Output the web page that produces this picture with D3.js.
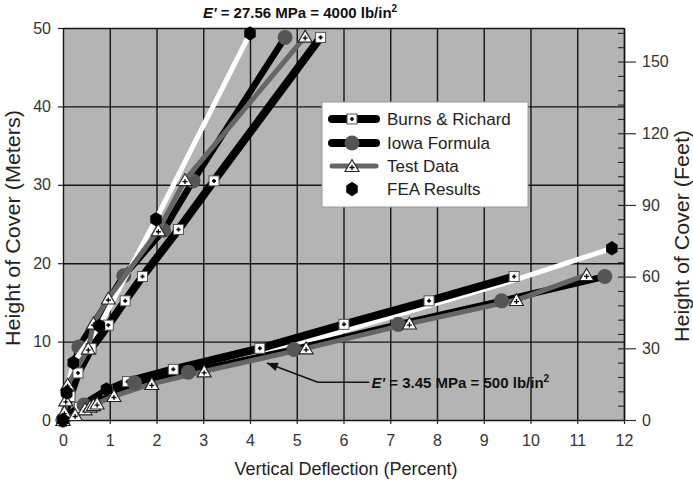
<!DOCTYPE html>
<html><head><meta charset="utf-8">
<script src="https://cdn.jsdelivr.net/npm/d3@7"></script>
<style>
body{margin:0;background:#fff}
svg{display:block}
text{font-family:"Liberation Sans",Arial,Helvetica,sans-serif}
</style>
</head><body>
<svg id="c" width="693" height="486"></svg>
<script>
// ---------------- data ----------------
const xTickVals = [0,1,2,3,4,5,6,7,8,9,10,11,12];
const yTickVals = [0,10,20,30,40,50];
const feetTickVals = [0,30,60,90,120,150];
const feetMinorVals = [0,6,12,18,24,30,36,42,48,54,60,66,72,78,84,90,96,102,108,114,120,126,132,138,144,150,156,162];

const seriesNames = ["Burns & Richard","Iowa Formula","Test Data","FEA Results"];

// E' = 27.56 MPa (stiff soil, steep curves)
const burnsHighX = [0, 0.15, 0.32, 0.6, 0.97, 1.33, 1.70, 2.47, 3.23, 5.51];
const burnsHighY = [0, 3.0, 6.0, 9.1, 12.1, 15.2, 18.3, 24.3, 30.5, 48.8];
const iowaHighX  = [0, 0.1, 0.34, 1.3, 2.15, 2.78, 4.75];
const iowaHighY  = [0, 3.5, 9.3, 18.4, 24.2, 30.5, 48.8];
const testHighX  = [0, 0.03, 0.06, 0.1, 0.54, 0.65, 0.97, 2.04, 2.61, 5.18];
const testHighY  = [0, 1.0, 2.5, 4.5, 9.1, 12.3, 15.5, 24.2, 30.6, 48.9];
const feaHighX   = [0, 0.08, 0.22, 0.78, 1.99, 4.0];
const feaHighY   = [0, 3.5, 7.3, 12.0, 25.6, 49.3];

// E' = 3.45 MPa (soft soil, shallow curves)
const burnsLowX = [0, 0.35, 0.95, 1.38, 2.36, 4.21, 6.01, 7.83, 9.65];
const burnsLowY = [0, 1.6, 3.8, 4.9, 6.46, 9.14, 12.2, 15.2, 18.3];
const iowaLowX  = [0, 0.45, 1.53, 2.68, 4.94, 7.17, 9.38, 11.59];
const iowaLowY  = [0, 1.9, 4.76, 6.1, 9.0, 12.2, 15.2, 18.3];
const testLowX  = [0, 0.26, 0.47, 0.58, 0.65, 0.73, 1.09, 1.9, 3.02, 5.2, 7.41, 9.70, 11.2];
const testLowY  = [0, 0.64, 1.36, 1.7, 1.9, 2.1, 3.06, 4.6, 6.2, 9.14, 12.3, 15.3, 18.5];
const feaLowX   = [0, 0.93, 2.4, 4.32, 5.6, 5.93, 9.56, 11.74];
const feaLowY   = [0, 3.9, 6.2, 8.93, 10.7, 11.26, 17.64, 21.9];
const feaLowResultX = [0.93, 11.74];
const feaLowResultY = [3.9, 21.9];

const labelHigh = ["E'", " = 27.56 MPa = 4000 lb/in", "2"];
const labelLow  = ["E'", " = 3.45 MPa = 500 lb/in", "2"];

// ---------------- chart ----------------
const svg = d3.select('#c');
const x = d3.scaleLinear().domain([0,12]).range([63,624]);
const y = d3.scaleLinear().domain([0,50]).range([420,28]);
const yFt = d3.scaleLinear().domain([0,50/0.3048]).range([420,28]);
const zip = (xs,ys)=>xs.map((v,i)=>[v,ys[i]]);
const FONT = '"Liberation Sans",Arial,sans-serif';

// plot background
svg.append('rect')
  .attr('x',x(0)).attr('y',y(50))
  .attr('width',x(12)-x(0)).attr('height',y(0)-y(50))
  .attr('fill','#b4b4b4');

// grid lines
const gridV = svg.append('g').attr('transform',`translate(0,${y(0)})`)
  .call(d3.axisBottom(x).tickValues(xTickVals).tickSizeInner(-(y(0)-y(50))).tickSizeOuter(0).tickFormat(''));
gridV.select('.domain').remove();
gridV.selectAll('line').attr('stroke','#151515').attr('stroke-width',1.4);
const gridH = svg.append('g').attr('transform',`translate(${x(0)},0)`)
  .call(d3.axisLeft(y).tickValues(yTickVals).tickSizeInner(-(x(12)-x(0))).tickSizeOuter(0).tickFormat(''));
gridH.select('.domain').remove();
gridH.selectAll('line').attr('stroke','#151515').attr('stroke-width',1.4);

// bottom axis labels (+ short ticks)
const ax = svg.append('g').attr('transform',`translate(0,${y(0)})`)
  .call(d3.axisBottom(x).tickValues(xTickVals).tickSize(4).tickPadding(11).tickFormat(d3.format('d')));
ax.select('.domain').remove();
ax.selectAll('line').attr('stroke','#222').attr('stroke-width',1.2);
ax.selectAll('text').attr('font-size',16).attr('fill','#333').attr('font-family',FONT);

// left axis labels
const ay = svg.append('g').attr('transform',`translate(${x(0)},0)`)
  .call(d3.axisLeft(y).tickValues(yTickVals).tickSize(5).tickPadding(7).tickFormat(d3.format('d')));
ay.select('.domain').remove();
ay.selectAll('line').attr('stroke','#222').attr('stroke-width',1.2);
ay.selectAll('text').attr('font-size',16).attr('fill','#333').attr('font-family',FONT);

// right axis (feet)
const ar = svg.append('g').attr('transform',`translate(${x(12)},0)`)
  .call(d3.axisRight(yFt).tickValues(feetTickVals).tickSize(12).tickPadding(6).tickSizeOuter(0).tickFormat(d3.format('d')));
ar.select('.domain').attr('stroke','#111').attr('stroke-width',1.4);
ar.selectAll('line').attr('stroke','#333').attr('stroke-width',1.2);
ar.selectAll('text').attr('font-size',16).attr('fill','#333').attr('font-family',FONT);
const arm = svg.append('g').attr('transform',`translate(${x(12)},0)`)
  .call(d3.axisRight(yFt).tickValues(feetMinorVals).tickSizeInner(-6).tickSizeOuter(0).tickFormat(''));
arm.select('.domain').remove();
arm.selectAll('line').attr('stroke','#222').attr('stroke-width',1.1);

const line = d3.line().x(d=>x(d[0])).y(d=>y(d[1]));
const P = svg.append('g');

function drawLine(pts, color, width){
  P.append('path').attr('d',line(pts)).attr('fill','none')
    .attr('stroke',color).attr('stroke-width',width)
    .attr('stroke-linejoin','round').attr('stroke-linecap','round');
}

// marker makers
function square(g,cx,cy){
  g.append('rect').attr('x',cx-5).attr('y',cy-5).attr('width',10).attr('height',10)
    .attr('fill','#fff').attr('stroke','#555').attr('stroke-width',1);
  g.append('path').attr('d',`M${cx-2},${cy}H${cx+2}M${cx},${cy-2}V${cy+2}`)
    .attr('stroke','#000').attr('stroke-width',1.6);
}
function circle(g,cx,cy){
  g.append('circle').attr('cx',cx).attr('cy',cy).attr('r',7.5).attr('fill','#555');
}
function tri(g,cx,cy){
  g.append('path').attr('d',`M${cx},${cy-6.5}L${cx+7},${cy+5.5}L${cx-7},${cy+5.5}Z`)
    .attr('fill','#fff').attr('stroke','#222').attr('stroke-width',1.1);
  g.append('path').attr('d',`M${cx-2.5},${cy+1.5}H${cx+2.5}M${cx},${cy-1}V${cy+4}`)
    .attr('stroke','#000').attr('stroke-width',1.3);
}
function hexa(g,cx,cy){
  const r=7.2;
  const pts=d3.range(6).map(i=>{const a=Math.PI/180*(60*i-90);return [cx+r*0.92*Math.cos(a),cy+r*Math.sin(a)];});
  g.append('path').attr('d','M'+pts.map(p=>p.join(',')).join('L')+'Z').attr('fill','#000');
}
const marks=(xs,ys,fn)=>zip(xs,ys).forEach(p=>fn(P,x(p[0]),y(p[1])));

// low E' group: white FEA line under the others
drawLine(zip(feaLowX,feaLowY),'#ffffff',5);
drawLine(zip(burnsLowX,burnsLowY),'#000',8);
drawLine(zip(iowaLowX,iowaLowY),'#000',6.5);
drawLine(zip(testLowX,testLowY),'#666',5);

// high E' group
drawLine(zip(burnsHighX,burnsHighY),'#000',8);
drawLine(zip(iowaHighX,iowaHighY),'#000',6.5);
marks(iowaHighX,iowaHighY,circle);
drawLine(zip(feaHighX,feaHighY),'#ffffff',5);
drawLine(zip(testHighX,testHighY),'#666',5);

// markers
marks(burnsHighX,burnsHighY,square);
marks(burnsLowX,burnsLowY,square);
marks(iowaLowX,iowaLowY,circle);
marks(testHighX,testHighY,tri);
marks(testLowX,testLowY,tri);
marks(feaHighX,feaHighY,hexa);
marks(feaLowResultX,feaLowResultY,hexa);

// annotations
function eLabel(parts, tx, ty, anchor){
  const t = svg.append('text').attr('x',tx).attr('y',ty).attr('text-anchor',anchor)
    .attr('font-size',15).attr('font-weight','bold').attr('fill','#111');
  t.append('tspan').attr('font-style','italic').text(parts[0]);
  t.append('tspan').text(parts[1]);
  t.append('tspan').attr('font-size',10).attr('dy',-6).text(parts[2]);
  return t;
}
eLabel(labelHigh, x(5.07), y(50)-10, 'middle');
eLabel(labelLow, x(6.6), y(4.1), 'start');

// arrow
const tip=[x(4.36),y(7.27)], elbow=[x(5.45),y(4.81)], start=[x(6.55),y(4.81)];
svg.append('path').attr('d',`M${start}L${elbow}L${tip}`).attr('fill','none').attr('stroke','#111').attr('stroke-width',1.5);
{
  const ang=Math.atan2(tip[1]-elbow[1],tip[0]-elbow[0]);
  const len=11,wid=4.5;
  const bx=tip[0]-len*Math.cos(ang), by=tip[1]-len*Math.sin(ang);
  const p1=[bx+wid*Math.sin(ang),by-wid*Math.cos(ang)], p2=[bx-wid*Math.sin(ang),by+wid*Math.cos(ang)];
  svg.append('path').attr('d',`M${tip}L${p1}L${p2}Z`).attr('fill','#111');
}

// legend
const lg = svg.append('g');
const lx=322, ly=102, lw=206, lh=105;
lg.append('rect').attr('x',lx).attr('y',ly).attr('width',lw).attr('height',lh)
  .attr('fill','#fff').attr('stroke','#999').attr('stroke-width',1);
const rows=[119,143,166,189];
const lineStyles=[['#000',8],['#000',8],['#666',5],null];
const markFns=[square,circle,tri,hexa];
seriesNames.forEach((name,i)=>{
  const cy=rows[i];
  if(lineStyles[i]){
    lg.append('line').attr('x1',332).attr('x2',376).attr('y1',cy).attr('y2',cy)
      .attr('stroke',lineStyles[i][0]).attr('stroke-width',lineStyles[i][1]).attr('stroke-linecap','round');
  }
  markFns[i](lg,352,cy);
  lg.append('text').attr('x',387).attr('y',cy+6).attr('font-size',17).attr('fill','#222').text(name);
});

// axis titles
svg.append('text').attr('transform',`translate(20,228) rotate(-90)`).attr('text-anchor','middle')
  .attr('font-size',20).attr('textLength',236).attr('lengthAdjust','spacingAndGlyphs')
  .attr('fill','#222').text('Height of Cover (Meters)');
svg.append('text').attr('transform',`translate(689,236) rotate(-90)`).attr('text-anchor','middle')
  .attr('font-size',20).attr('textLength',212).attr('lengthAdjust','spacingAndGlyphs')
  .attr('fill','#222').text('Height of Cover (Feet)');
svg.append('text').attr('x',346).attr('y',475).attr('text-anchor','middle')
  .attr('font-size',18).attr('fill','#222').text('Vertical Deflection (Percent)');
</script>
</body></html>
